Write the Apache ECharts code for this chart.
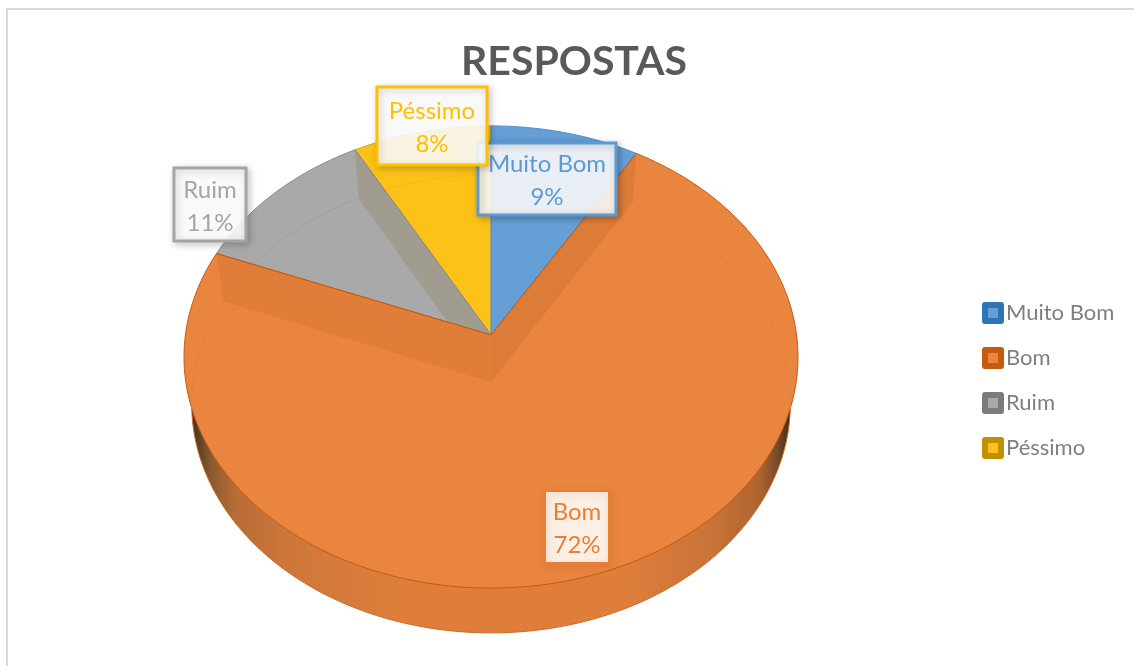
<!DOCTYPE html>
<html>
<head>
<meta charset="utf-8">
<title>Respostas</title>
<style>
html, body { margin: 0; padding: 0; background: #fff; }
#main { width: 1134px; height: 666px; }
</style>
<script src="https://cdn.jsdelivr.net/npm/echarts@6/dist/echarts.min.js"></script>
</head>
<body>
<div id="main"></div>
<script>
// dados do grafico
var categories = ["Muito Bom", "Bom", "Ruim", "Péssimo"];
var values = [8.6, 72.4, 11, 8];

// estilos por categoria (mesma ordem de categories)
var sliceColors = ["#669FD6", "#EA8540", "#A9A9A9", "#FDC218"];
var edgeColors = ["#4F8FCB", "#C55A11", "#8C8C8C", "#D9A514"];
var faintColors = ["#5E96CB", "#E3803C", "#A0A0A0", "#F4BA1C"];
var legendBorders = ["#2E75B6", "#C55A11", "#7B7B7B", "#BF9000"];
var labelColors = ["#5B9BD5", "#ED7D31", "#A5A5A5", "#FFC000"];
// caixas dos rotulos [x, y, largura, altura], como no Excel ficam soltas
var labelBoxes = [[478, 143, 138, 72], [545, 491, 64, 72], [174, 168, 72, 73], [377, 87, 110, 78]];
var labelWeights = [3, 2, 3, 3];
var labelShadows = ["rgba(0,0,0,0.28)", "rgba(190,90,20,0.30)", "rgba(0,0,0,0.22)", "rgba(0,0,0,0.22)"];
var labelOrder = [1, 2, 0, 3]; // Péssimo fica por cima de Muito Bom

var total = values.reduce(function (a, b) { return a + b; }, 0);

// fracao acumulada onde cada fatia comeca
function startOf(i) {
  var s = 0;
  for (var j = 0; j < i; j++) s += values[j];
  return s / total;
}

// projecao do disco: apice, raios e perspectiva do "3D" do Excel
var topDisc = { x: 491, y: 335, a: 305.6, b: 229 };
var lowDisc = { x: 491, y: 382, a: 298, b: 227 };
var persp = -0.0952;

function project(disc, frac) {
  var t = frac * Math.PI * 2;
  var u = Math.sin(t), v = -Math.cos(t);
  var w = 1 + persp * v;
  return [disc.x + disc.a * u / w, disc.y + disc.b * v / w];
}

function rim(disc, from, to) {
  var pts = [];
  var n = Math.max(2, Math.ceil((to - from) * 240));
  for (var i = 0; i <= n; i++) pts.push(project(disc, from + (to - from) * i / n));
  return pts;
}

function sectorPoints(disc, from, to) {
  return [[disc.x, disc.y]].concat(rim(disc, from, to));
}

function poly(points, fill, stroke, lineWidth) {
  return { type: "polygon", shape: { points: points }, style: { fill: fill, stroke: stroke || null, lineWidth: lineWidth || 0 } };
}

function line(points, color, lineWidth) {
  return { type: "polyline", shape: { points: points }, style: { fill: null, stroke: color, lineWidth: lineWidth || 1 } };
}

// lateral do disco, escura nas pontas
var sideFill = new echarts.graphic.LinearGradient(193, 0, 790, 0, [
  { offset: 0, color: "#45331F" },
  { offset: 0.03, color: "#8A5A30" },
  { offset: 0.07, color: "#B86C36" },
  { offset: 0.16, color: "#CE773A" },
  { offset: 0.36, color: "#DF7E3B" },
  { offset: 0.72, color: "#DF7E3B" },
  { offset: 0.86, color: "#CB7439" },
  { offset: 0.95, color: "#AE642F" },
  { offset: 0.98, color: "#74492A" },
  { offset: 1, color: "#3A2C1E" }
], true);

function renderSlice(index) {
  return function () {
    var from = startOf(index);
    var to = from + values[index] / total;
    var children = [];

    if (index === 1) {
      // fatia grande: lateral primeiro, depois o topo e as paredes internas
      children.push(poly(sectorPoints(lowDisc, from, to), sideFill, "#CF6A25", 1));
      children.push(poly(sectorPoints(topDisc, from, to), sliceColors[index], edgeColors[index], 1));
      children.push(line(rim(lowDisc, from, 0.27), faintColors[index], 1));
      children.push(line(rim(lowDisc, 0.73, to), faintColors[index], 1));
      children.push(poly([project(topDisc, to), [topDisc.x, topDisc.y], [lowDisc.x, lowDisc.y], project(lowDisc, to)], "#E07D38"));
      children.push(poly([[topDisc.x, topDisc.y], project(topDisc, from), project(lowDisc, from), [lowDisc.x, lowDisc.y]], "#DD7C38"));
      children.push(line([project(topDisc, to), [topDisc.x, topDisc.y], project(topDisc, from)], edgeColors[index], 1));
    } else {
      children.push(poly(sectorPoints(topDisc, from, to), sliceColors[index], edgeColors[index], 1));
      children.push(line(rim(lowDisc, from, to), faintColors[index], 1));
      if (index === 2) {
        // parede entre Ruim e Péssimo
        children.push(poly([project(topDisc, to), [topDisc.x, topDisc.y], [lowDisc.x, lowDisc.y], project(lowDisc, to)], "#A09C8F"));
        children.push(line([project(topDisc, to), [topDisc.x, topDisc.y]], "#8C8C7E", 1));
      }
    }
    return { type: "group", children: children };
  };
}

function renderLabel(params) {
  var i = labelOrder[params.dataIndex];
  var box = labelBoxes[i];
  return {
    type: "group",
    children: [
      {
        type: "rect",
        z2: params.dataIndex * 2,
        shape: { x: box[0], y: box[1], width: box[2], height: box[3] },
        style: {
          fill: "rgba(255,255,255,0.88)",
          stroke: labelColors[i],
          lineWidth: labelWeights[i],
          shadowBlur: 7,
          shadowColor: labelShadows[i],
          shadowOffsetX: 2,
          shadowOffsetY: 2
        }
      },
      {
        type: "text",
        z2: params.dataIndex * 2 + 1,
        style: {
          x: box[0] + box[2] / 2,
          y: box[1] + box[3] / 2 + 2,
          text: categories[i] + "\n" + Math.round(values[i]) + "%",
          align: "center",
          verticalAlign: "middle",
          fill: labelColors[i],
          font: "24px Lato, 'Open Sans', sans-serif",
          lineHeight: 33
        }
      }
    ]
  };
}

var myChart = echarts.init(document.getElementById("main"), null, { renderer: "canvas" });

// Bom vai por ultimo, suas paredes cobrem a base das outras fatias
var drawOrder = [3, 2, 0, 1];
var series = drawOrder.map(function (idx, k) {
  return {
    name: categories[idx],
    type: "custom",
    coordinateSystem: "none",
    z: 2 + k,
    silent: true,
    animation: false,
    itemStyle: { color: sliceColors[idx] },
    data: [[values[idx]]],
    renderItem: renderSlice(idx)
  };
});

series.push({
  name: "rotulos",
  type: "custom",
  coordinateSystem: "none",
  z: 20,
  silent: true,
  animation: false,
  data: labelOrder.map(function (i) { return [values[i]]; }),
  renderItem: renderLabel
});

myChart.setOption({
  backgroundColor: "#fff",
  animation: false,
  title: {
    text: "RESPOSTAS",
    left: 569,
    top: 36,
    textAlign: "center",
    textStyle: { color: "#595959", fontSize: 41, fontWeight: "bold", fontFamily: "Lato, 'Open Sans', sans-serif" }
  },
  legend: {
    orient: "vertical",
    left: 977,
    top: 297,
    itemWidth: 16,
    itemHeight: 16,
    itemGap: 23,
    selectedMode: false,
    icon: "rect",
    textStyle: { color: "#7F7F7F", fontSize: 22, fontFamily: "Lato, 'Open Sans', sans-serif" },
    data: categories.map(function (name, i) {
      return {
        name: name,
        itemStyle: { color: sliceColors[i], borderColor: legendBorders[i], borderWidth: 6, borderJoin: "round" }
      };
    })
  },
  graphic: [
    {
      type: "rect",
      z: 0,
      silent: true,
      shape: { x: 7, y: 9, width: 1300, height: 800 },
      style: { fill: null, stroke: "#D9D9D9", lineWidth: 2 }
    }
  ],
  series: series
});
</script>
</body>
</html>
